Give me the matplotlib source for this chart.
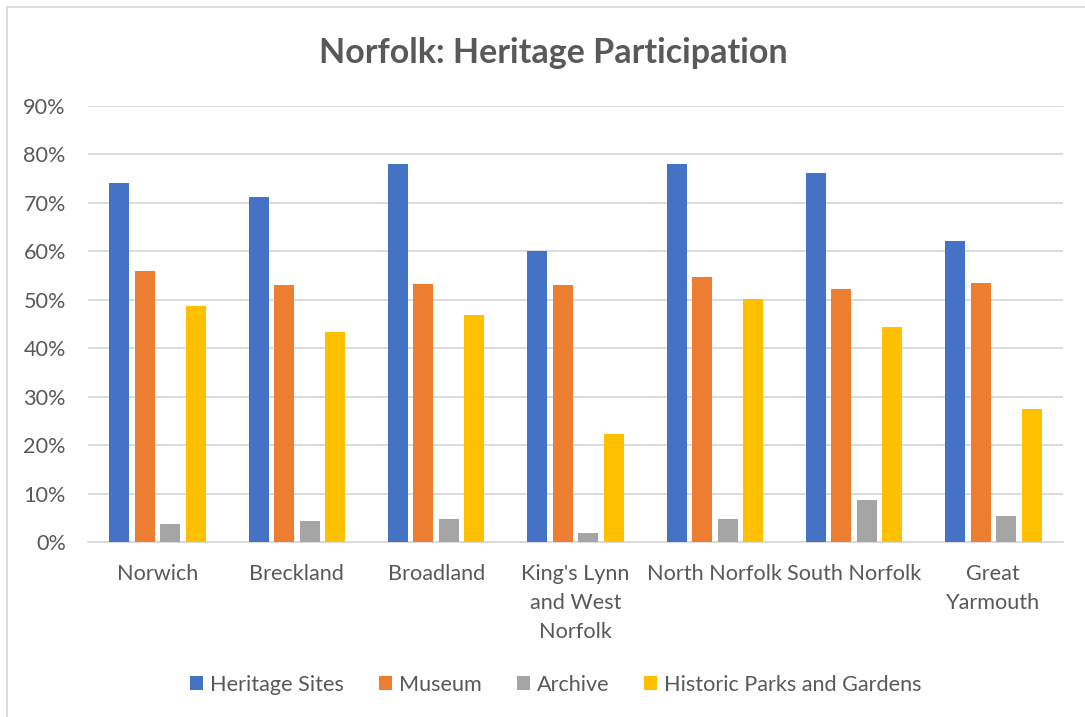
import matplotlib.pyplot as plt
import matplotlib.ticker as ticker
import numpy as np
from matplotlib.patches import Rectangle

plt.rcParams['font.family'] = ['Lato', 'DejaVu Sans']

districts = ["Norwich", "Breckland", "Broadland", "King's Lynn\nand West\nNorfolk",
             "North Norfolk", "South Norfolk", "Great\nYarmouth"]
series_names = ["Heritage Sites", "Museum", "Archive", "Historic Parks and Gardens"]

heritage_sites = [0.741, 0.712, 0.781, 0.601, 0.780, 0.762, 0.622]
museum = [0.559, 0.530, 0.533, 0.530, 0.547, 0.523, 0.534]
archive = [0.037, 0.043, 0.048, 0.019, 0.048, 0.087, 0.054]
parks_gardens = [0.487, 0.434, 0.468, 0.224, 0.502, 0.444, 0.276]

COLORS = ['#4472C4', '#ED7D31', '#A5A5A5', '#FFC000']
TEXT = '#595959'
GRID = '#D9D9D9'
FS = 15.6

fig = plt.figure(figsize=(10.85, 7.17), dpi=100)
ax = fig.add_axes([88 / 1085, 1 - 542.3 / 717, 975 / 1085, (542.3 - 106) / 717])

# outer chart frame (only top/left edges fall inside the image)
fig.patches.append(Rectangle((7 / 1085, -0.1), 1.2, 1 - 7 / 717 + 0.1,
                             transform=fig.transFigure, fill=False,
                             edgecolor=GRID, linewidth=1.3))

x = np.arange(len(districts))
width = 0.144
step = 0.183
all_series = [heritage_sites, museum, archive, parks_gardens]
for i, (vals, name, color) in enumerate(zip(all_series, series_names, COLORS)):
    ax.bar(x + (i - 1.5) * step, vals, width, color=color, label=name, zorder=3)

ax.set_xlim(-0.5, len(districts) - 0.5)
ax.set_ylim(0, 0.9)
ax.yaxis.set_major_locator(ticker.MultipleLocator(0.1))
ax.yaxis.set_major_formatter(ticker.PercentFormatter(1.0, decimals=0))
ax.grid(True, axis='y', color=GRID, linewidth=1.3, zorder=0)

for s in ['top', 'right', 'left']:
    ax.spines[s].set_visible(False)
ax.spines['bottom'].set_color(GRID)
ax.spines['bottom'].set_linewidth(1.3)

ax.set_xticks(x)
ax.set_xticklabels(districts, linespacing=1.58)
ax.tick_params(axis='both', length=0, labelsize=FS, labelcolor=TEXT)
ax.tick_params(axis='x', pad=15.5)
ax.tick_params(axis='y', pad=16)

fig.text(553 / 1085, 1 - 53 / 717, "Norfolk: Heritage Participation",
         ha='center', va='center', fontsize=24.5, fontweight='bold', color=TEXT)

leg = fig.legend(loc='center', bbox_to_anchor=(556 / 1085, 1 - 685 / 717),
                 ncol=4, frameon=False, fontsize=FS, handlelength=0.6,
                 handleheight=0.6, handletextpad=0.33, columnspacing=1.6)
for t in leg.get_texts():
    t.set_color(TEXT)

plt.savefig('out.png', dpi=100)
